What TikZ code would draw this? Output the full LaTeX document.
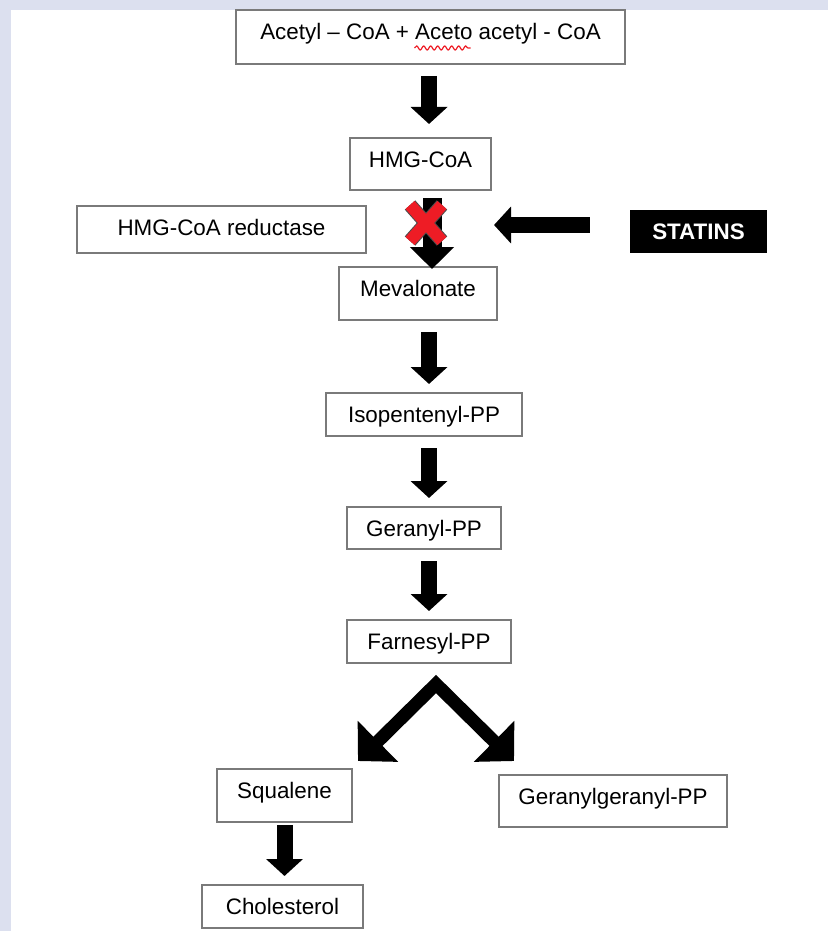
\documentclass[tikz,border=0pt]{standalone}
\usepackage{fontspec}
\setmainfont{Liberation Sans}
\usetikzlibrary{arrows.meta,decorations.pathmorphing}
\definecolor{slidebg}{HTML}{DCE0EF}
\definecolor{boxline}{HTML}{7A7A7A}
\definecolor{crossred}{HTML}{EE1C25}

\begin{document}
\begin{tikzpicture}[
        x=0.5pt, y=-0.5pt,
        every node/.style={font=\fontsize{11.2}{13}\selectfont},
        box/.style={rectangle, draw=boxline, line width=1pt, fill=white, text height=14.75pt, inner sep=0pt},
        drug/.style={rectangle, fill=black, text=white, font=\fontsize{11.2}{13}\selectfont\bfseries, inner sep=0pt},
        fat_arrow/.style={line width=8pt, -{Triangle[width=18pt, length=8.5pt]}, shorten <=5.5pt, shorten >=4pt},
        fork_arrow/.style={line width=6.5pt, line join=miter, {Triangle[width=28pt, length=14pt]}-{Triangle[width=28pt, length=14pt]}}
    ]

        % Page
        \useasboundingbox (0,0) rectangle (828,931);
        \fill[slidebg] (0,0) rectangle (828,931);
        \fill[white] (11,10) rectangle (828,931);

        % Main pathway (text depth = box height - text height)
        \node[box, minimum width=194.5pt, text depth=12.25pt] (acetyl) at (430.5,37) {Acetyl – CoA + Aceto acetyl - CoA};
        \node[box, minimum width=70.5pt, text depth=11.25pt] (hmg_coa) at (420.5,164) {HMG-CoA};
        \node[box, minimum width=144.5pt, text depth=8.75pt] (hmg_red) at (221.5,229.5) {HMG-CoA reductase};
        \node[drug, minimum width=68.5pt, minimum height=21.5pt] (statins) at (698.5,231.5) {STATINS};
        \node[box, minimum width=79pt, text depth=11.75pt] (mevalonate) at (418,293.5) {Mevalonate};
        \node[box, minimum width=98pt, text depth=6.75pt] (isopentenyl) at (424,414.5) {Isopentenyl-PP};
        \node[box, minimum width=77pt, text depth=6.25pt] (geranyl) at (424,528) {Geranyl-PP};
        \node[box, minimum width=82pt, text depth=6.75pt] (farnesyl) at (429,641.5) {Farnesyl-PP};

        % Branches
        \node[box, minimum width=67.5pt, text depth=11.75pt] (squalene) at (284.5,795.5) {Squalene};
        \node[box, minimum width=114pt, text depth=11.25pt] (geranylgeranyl) at (613,801) {Geranylgeranyl-PP};
        \node[box, minimum width=80.5pt, text depth=6.75pt] (cholesterol) at (282.5,906.5) {Cholesterol};

        % spell check mark under Aceto
        \draw[crossred, line width=0.6pt, decorate, decoration={snake, amplitude=1pt, segment length=3.5pt}]
            ([shift={(-16,11)}]acetyl.center) -- ([shift={(40,11)}]acetyl.center);

        % Arrows
        \coordinate (axis) at (429,0);
        \coordinate (block) at (432,225);
        \coordinate (fork) at (436,684);
        \draw[fat_arrow, shorten >=6.5pt] (acetyl.south -| axis) -- (hmg_coa.north -| axis);
        \draw[fat_arrow, line width=9.5pt, -{Triangle[width=21.5pt, length=11pt]}, shorten <=3.5pt, shorten >=-1.5pt] (hmg_coa.south -| block) -- (mevalonate.north -| block);
        \draw[fat_arrow] (mevalonate.south -| axis) -- (isopentenyl.north -| axis);
        \draw[fat_arrow] (isopentenyl.south -| axis) -- (geranyl.north -| axis);
        \draw[fat_arrow] (geranyl.south -| axis) -- (farnesyl.north -| axis);
        \draw[fork_arrow] ([shift={(5,-7)}]squalene.north east) -- (fork) -- ([shift={(16,-13)}]geranylgeranyl.north west);
        \draw[fat_arrow, shorten <=1pt] (squalene.south) -- (cholesterol.north -| squalene.south);

        % Statins block
        \draw[fat_arrow, shorten <=20pt, shorten >=31pt] (statins.west |- block) -- (block);
        \draw[line width=7pt, black!70] (410,205) -- (442,241) (442,205) -- (410,241);
        \draw[line width=6pt, crossred] (410,205) -- (442,241) (442,205) -- (410,241);

\end{tikzpicture}
\end{document}
